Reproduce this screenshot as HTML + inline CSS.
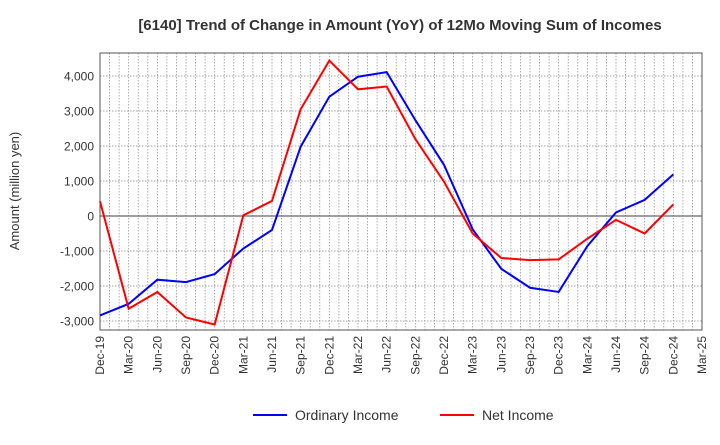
<!DOCTYPE html>
<html><head><meta charset="utf-8"><style>
body{margin:0;background:#fff;font-family:"Liberation Sans",sans-serif}
</style></head><body>
<svg id="c" width="720" height="440" font-family="Liberation Sans, sans-serif">
<text x="400" y="30" text-anchor="middle" font-size="15" font-weight="bold" fill="#333">[6140]  Trend of Change in Amount (YoY) of 12Mo Moving Sum of Incomes</text>
<text transform="translate(19,191) rotate(-90)" text-anchor="middle" font-size="13" fill="#333">Amount (million yen)</text>
<g id="grid"></g><g id="axes"></g><g id="series"></g>
<g>
<line x1="253" y1="415" x2="287" y2="415" stroke="#0000ff" stroke-width="2"/>
<text x="295" y="420" font-size="14" fill="#333">Ordinary Income</text>
<line x1="440" y1="415" x2="474" y2="415" stroke="#ff0000" stroke-width="2"/>
<text x="482" y="420" font-size="14" fill="#333">Net Income</text>
</g>
</svg>
<script>
const categories=["Dec-19","Mar-20","Jun-20","Sep-20","Dec-20","Mar-21","Jun-21","Sep-21","Dec-21","Mar-22","Jun-22","Sep-22","Dec-22","Mar-23","Jun-23","Sep-23","Dec-23","Mar-24","Jun-24","Sep-24","Dec-24","Mar-25"];
const ordinaryIncome=[-2840,-2510,-1820,-1890,-1660,-930,-400,1980,3410,3980,4110,2740,1460,-380,-1510,-2050,-2170,-860,100,460,1190];
const netIncome=[420,-2650,-2170,-2900,-3100,20,430,3050,4440,3620,3700,2200,980,-500,-1200,-1260,-1240,-650,-110,-500,330];
const yTicks=[-3000,-2000,-1000,0,1000,2000,3000,4000];
const L=100,R=702,T=53,B=330;
const x=i=>L+i*(R-L)/(categories.length-1);
const y=v=>216-v*0.035;
const NS="http://www.w3.org/2000/svg";
function mk(p,t,a){const e=document.createElementNS(NS,t);for(const k in a)e.setAttribute(k,a[k]);p.appendChild(e);return e;}
const g=document.getElementById('grid'),ax=document.getElementById('axes'),s=document.getElementById('series');
mk(g,'rect',{x:L,y:T,width:R-L,height:B-T,fill:'#fff',stroke:'none'});
for(let m=1;m<63;m++){const xx=L+m*(R-L)/63;
const l=mk(g,'line',{x1:xx,y1:T,x2:xx,y2:B,stroke:'#999','stroke-width':0.8,'stroke-dasharray':'1.5,1.5'});

}
yTicks.forEach(v=>{
const l=mk(g,'line',{x1:L,y1:y(v),x2:R,y2:y(v),stroke:v===0?'#666':'#888','stroke-width':v===0?1.2:0.8,'stroke-dasharray':v===0?'':'1.5,1.5'});


const t=mk(ax,'text',{x:L-6,y:y(v)+4.5,'text-anchor':'end','font-size':12,fill:'#333'});
t.textContent=v.toLocaleString('en-US');

});
mk(ax,'rect',{x:L,y:T,width:R-L,height:B-T,fill:'none',stroke:'#555','stroke-width':1});
categories.forEach((c,i)=>{
const t=mk(ax,'text',{transform:`translate(${x(i)+4},${B+6}) rotate(-90)`,'text-anchor':'end','font-size':12,fill:'#333'});
t.textContent=c;

});
function line(d,col,name){
const p=mk(s,'polyline',{points:d.map((v,i)=>x(i)+','+y(v)).join(' '),fill:'none',stroke:col,'stroke-width':2});

}
line(ordinaryIncome,'#0000ff','ordinary-income-line');
line(netIncome,'#ff0000','net-income-line');
</script>
</body></html>
